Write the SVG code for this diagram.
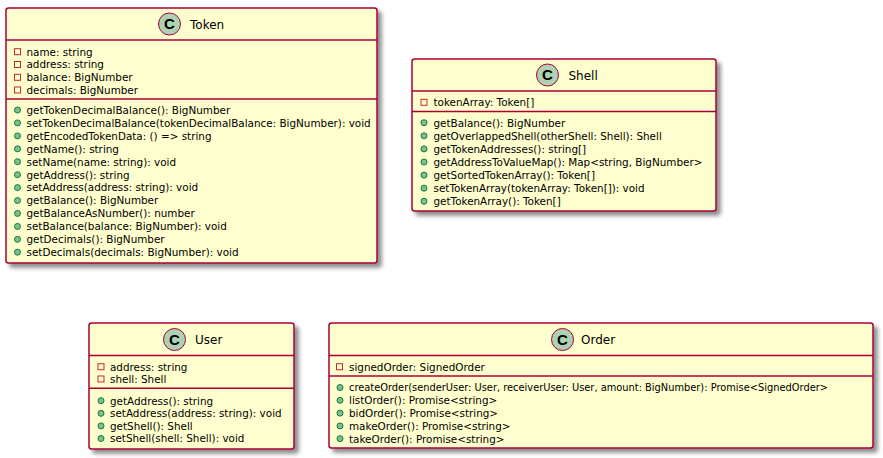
<svg xmlns="http://www.w3.org/2000/svg" width="883" height="458" viewBox="0 0 883 458">
<defs>
<filter id="sh" x="-10%" y="-10%" width="130%" height="130%">
<feGaussianBlur in="SourceAlpha" stdDeviation="2"/>
<feOffset dx="4" dy="4" result="b"/>
<feComponentTransfer><feFuncA type="linear" slope="0.45"/></feComponentTransfer>
<feMerge><feMergeNode/><feMergeNode in="SourceGraphic"/></feMerge>
</filter>
</defs>
<style>
.box{fill:#FEFECE;stroke:#A80036;stroke-width:1.5}
.sep{stroke:#A80036;stroke-width:1.5}
.ci{fill:#ADD1B2;stroke:#A80036;stroke-width:1}
.cl{font-family:"Liberation Sans",Arial,sans-serif;font-weight:bold;font-size:15px;fill:#000;text-anchor:middle}
.nm{font-family:"DejaVu Sans","Liberation Sans",sans-serif;font-size:12px;fill:#000}
.t{font-family:"DejaVu Sans","Liberation Sans",sans-serif;font-size:10.4px;fill:#000}
.fa{fill:none;stroke:#C82930;stroke-width:1}
.me{fill:#84BE84;stroke:#038048;stroke-width:1}
</style>
<g id="connectors"></g>

<g id="Token">
<rect class="box" x="6" y="8" width="371" height="255" rx="2.5" filter="url(#sh)"/>
<line class="sep" x1="6" y1="40" x2="377" y2="40"/>
<line class="sep" x1="6" y1="99" x2="377" y2="99"/>
<circle class="ci" cx="169.5" cy="24" r="11"/>
<text class="cl" x="169.5" y="29.3">C</text>
<text class="nm" x="190" y="29">Token</text>
<rect class="fa" x="14.5" y="48.7" width="6" height="6"/>
<rect class="fa" x="14.5" y="61.5" width="6" height="6"/>
<rect class="fa" x="14.5" y="74.3" width="6" height="6"/>
<rect class="fa" x="14.5" y="87" width="6" height="6"/>
<text class="t" x="26.5" y="55.5">name: string</text>
<text class="t" x="26.5" y="68.3">address: string</text>
<text class="t" x="26.5" y="81.1">balance: BigNumber</text>
<text class="t" x="26.5" y="93.8">decimals: BigNumber</text>
<circle class="me" cx="17.5" cy="110" r="3"/>
<circle class="me" cx="17.5" cy="122.9" r="3"/>
<circle class="me" cx="17.5" cy="135.9" r="3"/>
<circle class="me" cx="17.5" cy="148.8" r="3"/>
<circle class="me" cx="17.5" cy="161.7" r="3"/>
<circle class="me" cx="17.5" cy="174.7" r="3"/>
<circle class="me" cx="17.5" cy="187.6" r="3"/>
<circle class="me" cx="17.5" cy="200.5" r="3"/>
<circle class="me" cx="17.5" cy="213.4" r="3"/>
<circle class="me" cx="17.5" cy="226.4" r="3"/>
<circle class="me" cx="17.5" cy="239.3" r="3"/>
<circle class="me" cx="17.5" cy="252.2" r="3"/>
<text class="t" x="26.5" y="113.8">getTokenDecimalBalance(): BigNumber</text>
<text class="t" x="26.5" y="126.7">setTokenDecimalBalance(tokenDecimalBalance: BigNumber): void</text>
<text class="t" x="26.5" y="139.7">getEncodedTokenData: () =&gt; string</text>
<text class="t" x="26.5" y="152.6">getName(): string</text>
<text class="t" x="26.5" y="165.5">setName(name: string): void</text>
<text class="t" x="26.5" y="178.5">getAddress(): string</text>
<text class="t" x="26.5" y="191.4">setAddress(address: string): void</text>
<text class="t" x="26.5" y="204.3">getBalance(): BigNumber</text>
<text class="t" x="26.5" y="217.2">getBalanceAsNumber(): number</text>
<text class="t" x="26.5" y="230.2">setBalance(balance: BigNumber): void</text>
<text class="t" x="26.5" y="243.1">getDecimals(): BigNumber</text>
<text class="t" x="26.5" y="256">setDecimals(decimals: BigNumber): void</text>
</g>

<g id="Shell">
<rect class="box" x="412" y="59" width="304" height="152" rx="2.5" filter="url(#sh)"/>
<line class="sep" x1="412" y1="91" x2="716" y2="91"/>
<line class="sep" x1="412" y1="111.5" x2="716" y2="111.5"/>
<circle class="ci" cx="547.5" cy="75" r="11"/>
<text class="cl" x="547.5" y="80.3">C</text>
<text class="nm" x="568.5" y="79.5">Shell</text>
<rect class="fa" x="421" y="99.3" width="6" height="6"/>
<text class="t" x="433.5" y="106.1">tokenArray: Token[]</text>
<circle class="me" cx="424" cy="122.7" r="3"/>
<circle class="me" cx="424" cy="135.8" r="3"/>
<circle class="me" cx="424" cy="148.9" r="3"/>
<circle class="me" cx="424" cy="162" r="3"/>
<circle class="me" cx="424" cy="175.1" r="3"/>
<circle class="me" cx="424" cy="188.2" r="3"/>
<circle class="me" cx="424" cy="201.3" r="3"/>
<text class="t" x="433.5" y="126.5">getBalance(): BigNumber</text>
<text class="t" x="433.5" y="139.6">getOverlappedShell(otherShell: Shell): Shell</text>
<text class="t" x="433.5" y="152.7">getTokenAddresses(): string[]</text>
<text class="t" x="433.5" y="165.8">getAddressToValueMap(): Map&lt;string, BigNumber&gt;</text>
<text class="t" x="433.5" y="178.9">getSortedTokenArray(): Token[]</text>
<text class="t" x="433.5" y="192">setTokenArray(tokenArray: Token[]): void</text>
<text class="t" x="433.5" y="205.1">getTokenArray(): Token[]</text>
</g>

<g id="User">
<rect class="box" x="89" y="323" width="205" height="126" rx="2.5" filter="url(#sh)"/>
<line class="sep" x1="89" y1="355.5" x2="294" y2="355.5"/>
<line class="sep" x1="89" y1="388.3" x2="294" y2="388.3"/>
<circle class="ci" cx="174.5" cy="339.5" r="11"/>
<text class="cl" x="174.5" y="344.8">C</text>
<text class="nm" x="195" y="344">User</text>
<rect class="fa" x="98" y="363.7" width="6" height="6"/>
<rect class="fa" x="98" y="376" width="6" height="6"/>
<text class="t" x="110" y="370.5">address: string</text>
<text class="t" x="110" y="382.8">shell: Shell</text>
<circle class="me" cx="101" cy="400.7" r="3"/>
<circle class="me" cx="101" cy="413.3" r="3"/>
<circle class="me" cx="101" cy="425.9" r="3"/>
<circle class="me" cx="101" cy="438.5" r="3"/>
<text class="t" x="110" y="404.5">getAddress(): string</text>
<text class="t" x="110" y="417.1">setAddress(address: string): void</text>
<text class="t" x="110" y="429.7">getShell(): Shell</text>
<text class="t" x="110" y="442.3">setShell(shell: Shell): void</text>
</g>

<g id="Order">
<rect class="box" x="329" y="323" width="544" height="125" rx="2.5" filter="url(#sh)"/>
<line class="sep" x1="329" y1="355.5" x2="873" y2="355.5"/>
<line class="sep" x1="329" y1="376" x2="873" y2="376"/>
<circle class="ci" cx="562.5" cy="339.5" r="11"/>
<text class="cl" x="562.5" y="344.8">C</text>
<text class="nm" x="581" y="344">Order</text>
<rect class="fa" x="336.5" y="363.7" width="6" height="6"/>
<text class="t" x="349" y="370.5">signedOrder: SignedOrder</text>
<circle class="me" cx="340" cy="387.5" r="3"/>
<circle class="me" cx="340" cy="400.3" r="3"/>
<circle class="me" cx="340" cy="413.1" r="3"/>
<circle class="me" cx="340" cy="425.9" r="3"/>
<circle class="me" cx="340" cy="438.7" r="3"/>
<text class="t" x="349" y="391.3" textLength="479" lengthAdjust="spacingAndGlyphs">createOrder(senderUser: User, receiverUser: User, amount: BigNumber): Promise&lt;SignedOrder&gt;</text>
<text class="t" x="349" y="404.1">listOrder(): Promise&lt;string&gt;</text>
<text class="t" x="349" y="416.9">bidOrder(): Promise&lt;string&gt;</text>
<text class="t" x="349" y="429.7">makeOrder(): Promise&lt;string&gt;</text>
<text class="t" x="349" y="442.5">takeOrder(): Promise&lt;string&gt;</text>
</g>
</svg>
